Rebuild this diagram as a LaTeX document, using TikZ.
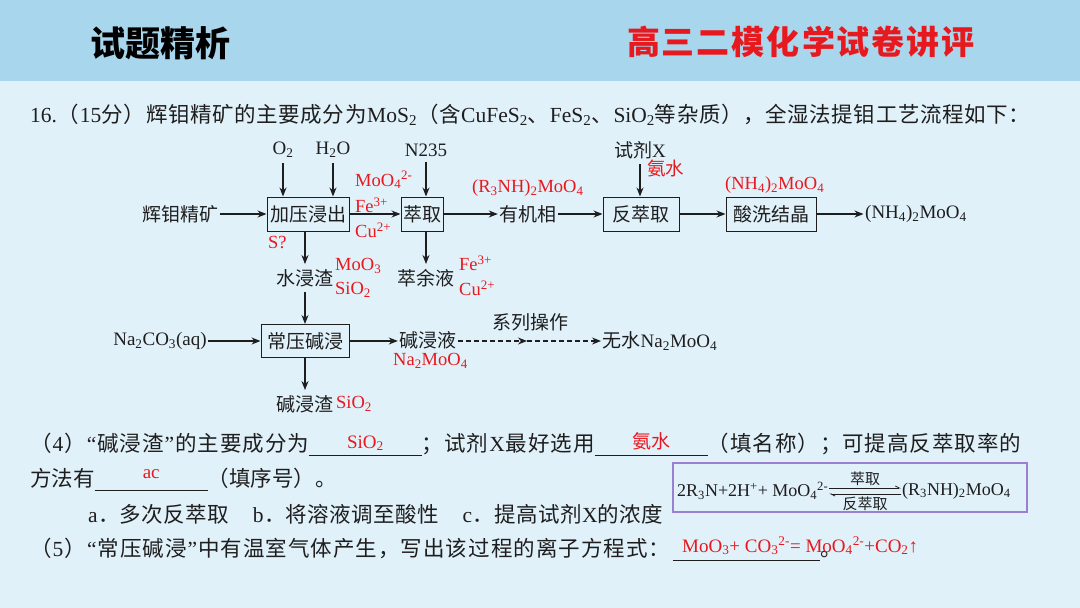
\documentclass[tikz,border=0pt]{standalone}
\usepackage{fontspec}
\setmainfont{Liberation Serif}
\newfontfamily\cjk{Noto Sans CJK SC}
\newfontfamily\lat{Liberation Serif}
\usetikzlibrary{arrows,arrows.meta,positioning}

\definecolor{hdr}{HTML}{A8D6EC}
\definecolor{bg}{HTML}{E1F1FA}
\definecolor{ans}{HTML}{E8191E}
\definecolor{ink}{HTML}{1E1E1E}
\definecolor{frame}{HTML}{9B7FD2}

% Chinese characters switch to the CJK font, Latin ones back
\newcount\cc
\def\setcls#1#2{\cc=#1\relax\loop\XeTeXcharclass\cc=5\relax\advance\cc by 1\relax\ifnum\cc<#2\relax\repeat}
\setcls{"3000}{"3040}
\setcls{"4E00}{"A000}
\setcls{"FF00}{"FFF0}
\XeTeXinterchartokenstate=1
\XeTeXinterchartoks 0 5 = {\hskip0pt plus1pt\relax\cjk}
\XeTeXinterchartoks 1 5 = {\hskip0pt plus1pt\relax\cjk}
\XeTeXinterchartoks 2 5 = {\hskip0pt plus1pt\relax\cjk}
\XeTeXinterchartoks 3 5 = {\hskip0pt plus1pt\relax\cjk}
\XeTeXinterchartoks 4095 5 = {\cjk}
\XeTeXinterchartoks 5 5 = {\hskip0pt plus1pt\relax}
\XeTeXinterchartoks 5 0 = {\hskip0pt plus1pt\relax\lat}
\XeTeXinterchartoks 5 1 = {\hskip0pt plus1pt\relax\lat}
\XeTeXinterchartoks 5 2 = {\hskip0pt plus1pt\relax\lat}
\XeTeXinterchartoks 5 3 = {\hskip0pt plus1pt\relax\lat}
\XeTeXinterchartoks 4095 0 = {\lat}
\XeTeXinterchartoks 4095 1 = {\lat}
\XeTeXinterchartoks 4095 2 = {\lat}
\XeTeXinterchartoks 4095 3 = {\lat}

\newcommand\lo[1]{\textsubscript{#1}}
\newcommand\hi[1]{\textsuperscript{#1}}
\newcommand\blank[3]{\rlap{\rule[-5pt]{#1}{0.8pt}}\makebox[#1]{\raisebox{#2}{\textcolor{ans}{\fontsize{19}{21}\selectfont #3}}}}

\begin{document}
\begin{tikzpicture}[x=1pt,y=-1pt,
    txt/.style={font=\fontsize{19}{21}\selectfont,text=ink,inner xsep=1.5pt,inner ysep=5pt},
    proc/.style={draw=ink,line width=1pt,font=\fontsize{19}{21}\selectfont,text=ink,inner xsep=2pt,minimum height=34pt},
    chem/.style={font=\fontsize{18.5}{20}\selectfont,text=ans,inner sep=0pt,anchor=west},
    arrow/.style={-{Stealth[length=9pt,width=7pt]},line width=1.1pt,draw=ink},
    dsharrow/.style={arrow,dash pattern=on 5pt off 3pt},
    para/.style={anchor=base west,font=\fontsize{21.5}{24}\selectfont,text=ink,inner sep=0pt},
    eq/.style={font=\fontsize{18}{20}\selectfont,text=ink,inner sep=1pt,anchor=west},
    eqlab/.style={font=\fontsize{15}{17}\selectfont,text=ink,inner sep=0pt},
    harp/.style={-{Straight Barb[left,length=4pt,width=4pt]},line width=0.8pt,draw=ink}]
    \useasboundingbox (0,0) rectangle (1080,608);
    \fill[bg] (0,0) rectangle (1080,608);
    \fill[hdr] (0,0) rectangle (1080,81);
    \node[font=\fontsize{35}{38}\selectfont\bfseries,text=black] (ttl) at (160,43) {试题精析};
    \node[font=\fontsize{33}{36}\selectfont\bfseries,text=ans] (course) at (801,42) {\makebox[348pt][s]{高三二模化学试卷讲评}};

    \node[para] (q) at (30,122) {\makebox[1000pt][s]{16.（15分）辉钼精矿的主要成分为MoS\lo{2}（含CuFeS\lo{2}、FeS\lo{2}、SiO\lo{2}等杂质），全湿法提钼工艺流程如下：}};

    % flow chart
    \node[txt] (ore) at (180,214) {辉钼精矿};
    \node[proc,minimum width=82pt] (jy) at (308,214) {加压浸出};
    \node[txt] (o2) at (283,150) {O\lo{2}};
    \node[txt] (h2o) at (333,150) {H\lo{2}O};
    \node[proc,minimum width=42pt] (cq) at (422,214) {萃取};
    \node[txt] (n235) at (426,150) {N235};
    \node[txt] (yjx) at (528,214) {有机相};
    \node[proc,minimum width=76pt] (fcq) at (641,214) {反萃取};
    \node[txt] (sjx) at (640,150) {试剂X};
    \node[proc,minimum width=90pt] (sx) at (771,214) {酸洗结晶};
    \node[txt] (prod) at (916,214) {(NH\lo{4})\lo{2}MoO\lo{4}};
    \node[txt] (sjz) at (305,278) {水浸渣};
    \node[txt] (cyy) at (426,278) {萃余液};
    \node[proc,minimum width=88pt,minimum height=33pt] (cyjj) at (305,341) {常压碱浸};
    \node[txt] (na) at (160,341) {Na\lo{2}CO\lo{3}(aq)};
    \node[txt] (jjy) at (428,340) {碱浸液};
    \coordinate (mid) at (527,341);
    \node[txt] (wsn) at (660,341) {无水Na\lo{2}MoO\lo{4}};
    \node[txt] (xl) at (530,322) {系列操作};
    \node[txt] (jjz) at (305,404) {碱浸渣};

    \draw[arrow] (ore) -- (jy);
    \draw[arrow] (o2) -- (o2 |- jy.north);
    \draw[arrow] (h2o) -- (h2o |- jy.north);
    \draw[arrow] (jy) -- (cq);
    \draw[arrow] (n235) -- (n235 |- cq.north);
    \draw[arrow] (cq) -- (yjx);
    \draw[arrow] (yjx) -- (fcq);
    \draw[arrow] (sjx) -- (sjx |- fcq.north);
    \draw[arrow] (fcq) -- (sx);
    \draw[arrow] (sx) -- (prod);
    \draw[arrow] (jy.south -| sjz) -- (sjz);
    \draw[arrow] (cq.south -| cyy) -- (cyy);
    \draw[arrow] (sjz) -- (cyjj);
    \draw[arrow] (na) -- (cyjj);
    \draw[arrow] (cyjj) -- (cyjj.east -| jjy.west);
    \draw[arrow] (cyjj) -- (jjz);
    \draw[dsharrow] (jjy.east |- mid) -- (mid);
    \draw[dsharrow] (mid) -- (wsn);

    % answers written in red
    \node[chem] (c1) at (355,180) {MoO\lo{4}\hi{2-}};
    \node[chem] (c2) at (355,205) {Fe\hi{3+}};
    \node[chem] (c3) at (355,230) {Cu\hi{2+}};
    \node[chem] (c4) at (268,243) {S?};
    \node[chem] (c5) at (472,188) {(R\lo{3}NH)\lo{2}MoO\lo{4}};
    \node[chem] (c6) at (647,168) {氨水};
    \node[chem] (c7) at (725,185) {(NH\lo{4})\lo{2}MoO\lo{4}};
    \node[chem] (c8) at (335,266) {MoO\lo{3}};
    \node[chem] (c9) at (335,290) {SiO\lo{2}};
    \node[chem] (c10) at (459,263) {Fe\hi{3+}};
    \node[chem] (c11) at (459,288) {Cu\hi{2+}};
    \node[chem] (c12) at (393,361) {Na\lo{2}MoO\lo{4}};
    \node[chem] (c13) at (336,404) {SiO\lo{2}};

    % questions
    \node[para] (l4) at (30,451) {\makebox[991pt][s]{（4）“碱浸渣”的主要成分为\blank{113pt}{3pt}{SiO\lo{2}}；试剂X最好选用\blank{113pt}{3pt}{氨水}（填名称）；可提高反萃取率的}};
    \node[para] (l4b) at (30,486) {方法有\blank{113pt}{8pt}{ac}（填序号）。};
    \node[para] (l4c) at (88,522) {\makebox[575pt][s]{a．多次反萃取\hspace{24pt}b．将溶液调至酸性\hspace{24pt}c．提高试剂X的浓度}};
    \node[para] (l5) at (30,556) {\makebox[640pt][s]{（5）“常压碱浸”中有温室气体产生，写出该过程的离子方程式：}\hspace{3pt}\blank{147pt}{0pt}{}。};
    \node[chem,font=\fontsize{19}{21}\selectfont] (ans5) at (682,546) {MoO\lo{3}+ CO\lo{3}\hi{2-}= MoO\lo{4}\hi{2-}+CO\lo{2}↑};

    % extraction equilibrium
    \draw[draw=frame,line width=1.2pt] (673,463) rectangle (1027,512);
    \node[eq] (eqL) at (676,491) {2R\lo{3}N+2H\hi{+}+ MoO\lo{4}\hi{2-}};
    \node[eq] (eqR) at (901,491) {(R\lo{3}NH)\lo{2}MoO\lo{4}};
    \draw[harp] ([yshift=3pt]eqL.east) -- ([yshift=3pt]eqR.west) node[midway,above=2pt,eqlab] {萃取};
    \draw[harp] ([yshift=-3pt]eqR.west) -- ([yshift=-3pt]eqL.east) node[midway,below=2pt,eqlab] {反萃取};
\end{tikzpicture}
\end{document}
